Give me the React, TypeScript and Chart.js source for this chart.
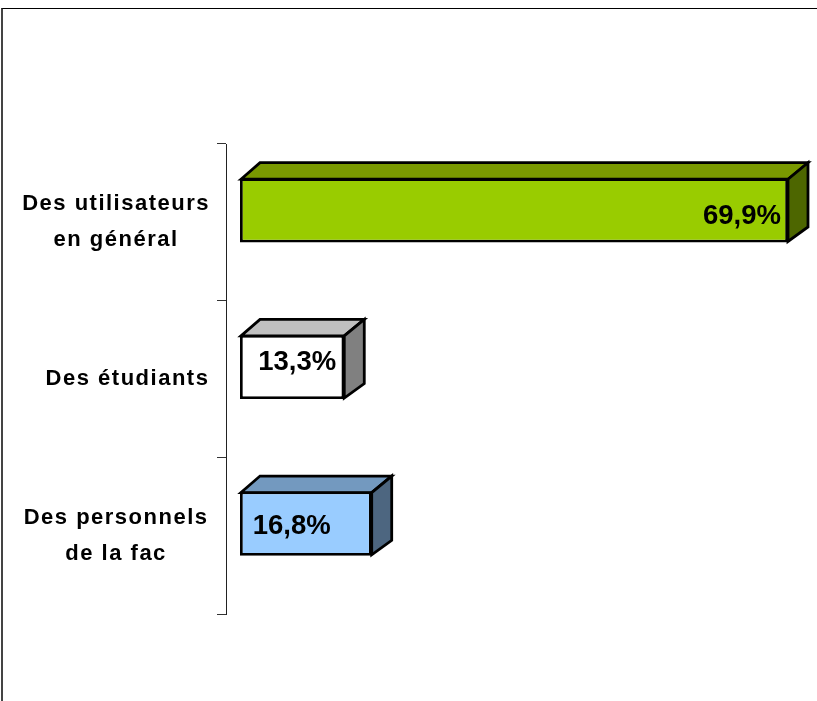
import React, { useEffect, useRef } from "react";
import { Chart, registerables } from "chart.js";

Chart.register(...registerables);

const categories = [["Des utilisateurs", "en général"], "Des étudiants", ["Des personnels", "de la fac"]];
const values = [69.9, 13.3, 16.8];
const valueLabels = ["69,9%", "13,3%", "16,8%"];
const frontColors = ["#99CC00", "#FFFFFF", "#99CCFF"];
const topColors = ["#7A9900", "#C0C0C0", "#7399BF"];
const sideColors = ["#4D6600", "#808080", "#4D6680"];
const labelDx = [-46, -47, -80];
const labelDy = [6, -5, 3];

const DEPTH_X = 20;
const DEPTH_Y = -15.5;
const BAR_SHIFT = -12;
const FONT = '"Liberation Sans", Arial, sans-serif';

const box3d = {
  id: "box3d",
  beforeDraw(chart: any) {
    chart.ctx.letterSpacing = "1.5px";
  },
  beforeDatasetsDraw(chart: any) {
    const ctx = chart.ctx;
    ctx.letterSpacing = "0px";
    ctx.save();
    ctx.translate(0, BAR_SHIFT);
    const meta = chart.getDatasetMeta(0);
    meta.data.forEach((bar: any, i: number) => {
      const l = bar.base;
      const r = bar.x;
      const t = bar.y - bar.height / 2;
      const b = bar.y + bar.height / 2;
      ctx.lineWidth = 2.8;
      ctx.strokeStyle = "#000";
      ctx.lineJoin = "miter";
      ctx.fillStyle = topColors[i];
      ctx.beginPath();
      ctx.moveTo(l + 1, t + 1);
      ctx.lineTo(l + DEPTH_X, t + DEPTH_Y);
      ctx.lineTo(r + DEPTH_X, t + DEPTH_Y);
      ctx.lineTo(r, t + 1);
      ctx.closePath();
      ctx.fill();
      ctx.stroke();
      ctx.fillStyle = sideColors[i];
      ctx.beginPath();
      ctx.moveTo(r, t + 1);
      ctx.lineTo(r + DEPTH_X, t + DEPTH_Y);
      ctx.lineTo(r + DEPTH_X, b + DEPTH_Y);
      ctx.lineTo(r, b - 1);
      ctx.closePath();
      ctx.fill();
      ctx.stroke();
    });
  },
  afterDatasetsDraw(chart: any) {
    const ctx = chart.ctx;
    const meta = chart.getDatasetMeta(0);
    ctx.fillStyle = "#000";
    ctx.font = `bold 27.5px ${FONT}`;
    ctx.textAlign = "center";
    ctx.textBaseline = "middle";
    meta.data.forEach((bar: any, i: number) => {
      ctx.fillText(valueLabels[i], bar.x + labelDx[i], bar.y + labelDy[i]);
    });
    ctx.restore();
  },
};

export default function App() {
  const ref = useRef<HTMLCanvasElement>(null);
  useEffect(() => {
    const chart = new Chart(ref.current!, {
      type: "bar",
      data: {
        labels: categories as any,
        datasets: [
          {
            data: values,
            backgroundColor: frontColors,
            borderColor: "#000",
            borderWidth: 2.8,
            borderSkipped: false,
            barPercentage: 0.41,
            categoryPercentage: 1,
          },
        ],
      },
      options: {
        indexAxis: "y",
        animation: false,
        responsive: false,
        events: [],
        layout: { padding: { top: 144, bottom: 87, left: 0, right: 0 } },
        plugins: { legend: { display: false }, title: { display: false }, tooltip: { enabled: false } },
        scales: {
          x: { display: false, min: -1.786, max: 73.6 },
          y: {
            afterFit(scale: any) {
              scale.width = 226;
            },
            border: { display: true, color: "#222", width: 1 },
            grid: { drawOnChartArea: false, drawTicks: true, tickLength: 9, color: "#333", offset: true },
            ticks: {
              color: "#000",
              padding: 19,
              crossAlign: "center",
              font: { family: FONT, size: 22, weight: "bold", lineHeight: 1.64 },
              callback(this: any, _v: any, i: number) {
                const c = categories[i];
                return Array.isArray(c) ? c : "\u00A0\u00A0\u00A0" + c;
              },
            },
          },
        },
      } as any,
      plugins: [box3d],
    });
    return () => chart.destroy();
  }, []);
  return (
    <div style={{ position: "absolute", left: 0, top: 0, width: 817, height: 701, overflow: "hidden", background: "#fff" }}>
      <div style={{ position: "absolute", left: 1, top: 8, width: 830, height: 720, borderLeft: "2px solid #444", borderTop: "1px solid #000" }} />
      <canvas ref={ref} width={817} height={701} style={{ position: "absolute", left: 0, top: 0, display: "block" }} />
    </div>
  );
}
